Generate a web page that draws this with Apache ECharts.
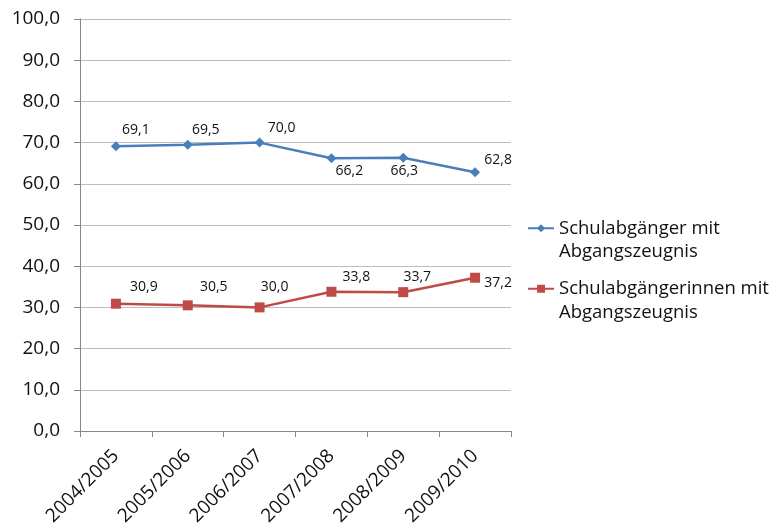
<!DOCTYPE html>
<html>
<head>
<meta charset="utf-8">
<script src="https://cdn.jsdelivr.net/npm/echarts@6/dist/echarts.min.js"></script>
<style>
  html, body { margin: 0; padding: 0; background: #fff; }
  #chart { width: 770px; height: 526px; }
</style>
</head>
<body>
<div id="chart"></div>
<script>
// School years on the category axis
const years = ['2004/2005', '2005/2006', '2006/2007', '2007/2008', '2008/2009', '2009/2010'];
// Share of leavers with a leaving certificate, in percent
const boys = [69.1, 69.5, 70.0, 66.2, 66.3, 62.8];
const girls = [30.9, 30.5, 30.0, 33.8, 33.7, 37.2];
const seriesNames = ['Schulabgänger mit Abgangszeugnis', 'Schulabgängerinnen mit Abgangszeugnis'];

const fmt = v => v.toFixed(1).replace('.', ',');

// Value label placement: shift of the label centre from its marker, in px
const boysLabelShift = [[20, -16], [18, -15], [22, -15], [18, 13], [1, 13], [23, -12]];
const girlsLabelShift = [[28, -17], [26, -18], [15, -20], [25, -15], [14, -15], [23, 5]];

function withLabels(values, shifts) {
  return values.map((v, i) => ({
    value: v,
    label: { position: 'inside', offset: shifts[i] }
  }));
}

const chart = echarts.init(document.getElementById('chart'));
const font = 'Open Sans, Liberation Sans, sans-serif';
const valueLabel = {
  show: true, fontSize: 14, color: '#111', fontFamily: font,
  align: 'center', verticalAlign: 'middle',
  formatter: p => fmt(p.value)
};

chart.setOption({
  animation: false,
  textStyle: { fontFamily: font },
  grid: {
    left: 80, right: 259, top: 19, bottom: 95,
    containLabel: false, outerBoundsMode: 'none'
  },
  legend: {
    orient: 'vertical',
    left: 527,
    top: 193,
    padding: 0,
    itemWidth: 26,
    itemHeight: 10,
    itemGap: -10,
    data: seriesNames,
    // leading blank line keeps the marker level with the first text line
    formatter: name => '\n' + name.replace(' mit ', ' mit\n'),
    textStyle: { fontSize: 18.5, color: '#111', lineHeight: 23.5, fontFamily: font }
  },
  xAxis: {
    type: 'category',
    data: years,
    boundaryGap: true,
    axisLine: { lineStyle: { color: '#868686', width: 1 } },
    axisTick: { show: true, length: 6, lineStyle: { color: '#868686' } },
    axisLabel: { rotate: 45, fontSize: 19, color: '#111', margin: 22, interval: 0 },
    splitLine: { show: false }
  },
  yAxis: {
    type: 'value',
    min: 0,
    max: 100,
    interval: 10,
    axisLine: { show: true, lineStyle: { color: '#868686', width: 1 } },
    axisTick: { show: true, length: 6, lineStyle: { color: '#868686' } },
    axisLabel: { fontSize: 19, color: '#111', margin: 20, formatter: v => fmt(v) },
    splitLine: { show: true, lineStyle: { color: '#bcbcbc', width: 1 } }
  },
  series: [
    {
      name: seriesNames[0],
      type: 'line',
      data: withLabels(boys, boysLabelShift),
      symbol: 'diamond',
      symbolSize: 10,
      lineStyle: { color: '#4a7ebb', width: 2.5 },
      itemStyle: { color: '#4a7ebb' },
      label: valueLabel
    },
    {
      name: seriesNames[1],
      type: 'line',
      data: withLabels(girls, girlsLabelShift),
      symbol: 'rect',
      symbolSize: 10,
      lineStyle: { color: '#be4b48', width: 2.5 },
      itemStyle: { color: '#be4b48' },
      label: valueLabel
    }
  ]
});
</script>
</body>
</html>
